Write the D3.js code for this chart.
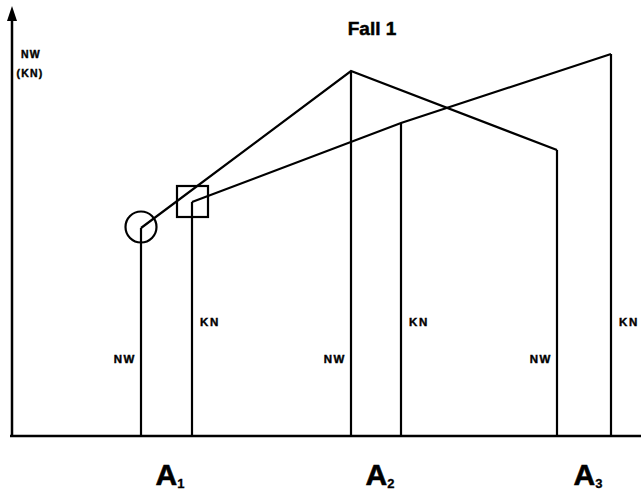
<!DOCTYPE html>
<html>
<head>
<meta charset="utf-8">
<script src="https://cdn.jsdelivr.net/npm/d3@7"></script>
<style>
  html, body { margin: 0; padding: 0; background: #fff; }
  svg { display: block; }
  text { font-family: "Liberation Sans", Arial, sans-serif; fill: #000; }
</style>
</head>
<body>
<div id="chart"></div>
<script>
// ---- data ----
const title = "Fall 1";
const categories = ["A", "A", "A"];
const subscripts = ["1", "2", "3"];
const categoryPos = [160, 370, 578];       // label position along x (axis units)
const nwPos = [131, 341, 547];             // NW bar positions (axis units)
const knPos = [182, 391, 601];             // KN bar positions (axis units)
const nwValues = [52, 91.25, 71.5];        // NW heights
const knValues = [58.5, 78.25, 95.5];      // KN heights
const nwLabel = "NW";
const knLabel = "KN";
const yAxisLabels = ["NW", "(KN)"];

// ---- layout ----
const W = 641, H = 494;
const x0 = 12, baseY = 436;
const x = d3.scaleLinear().domain([0, 631]).range([x0 - 2, 641]);
const y = d3.scaleLinear().domain([0, 100]).range([baseY, 36]);

const svg = d3.select("#chart").append("svg")
  .attr("width", W).attr("height", H);

const ink = "#000";

// axes
svg.append("line").attr("x1", x0).attr("x2", x0).attr("y1", baseY + 1).attr("y2", 16)
  .attr("stroke", ink).attr("stroke-width", 2.5);
svg.append("path").attr("d", `M${x0},6 L${x0 - 5},21 L${x0 + 5},21 Z`).attr("fill", ink);
svg.append("line").attr("x1", x0 - 2).attr("x2", W).attr("y1", baseY).attr("y2", baseY)
  .attr("stroke", ink).attr("stroke-width", 2.6);

// title
svg.append("text").attr("x", 372).attr("y", 35).attr("text-anchor", "middle")
  .attr("font-size", 19).attr("font-weight", "bold")
  .attr("stroke", ink).attr("stroke-width", 0.5).text(title);

// y axis labels
svg.append("text").attr("x", 31).attr("y", 58).attr("text-anchor", "middle")
  .attr("font-size", 10.5).attr("font-weight", "bold").attr("letter-spacing", 1.2)
  .attr("stroke", ink).attr("stroke-width", 0.4).text(yAxisLabels[0]);
svg.append("text").attr("x", 30).attr("y", 77).attr("text-anchor", "middle")
  .attr("font-size", 10.5).attr("font-weight", "bold").attr("letter-spacing", 1.2)
  .attr("stroke", ink).attr("stroke-width", 0.4).text(yAxisLabels[1]);

const lw = 2.2;

// vertical bars
const g = svg.append("g").attr("stroke", ink).attr("stroke-width", lw).attr("fill", "none");
nwPos.forEach((p, i) => {
  g.append("line").attr("x1", x(p)).attr("x2", x(p)).attr("y1", baseY).attr("y2", y(nwValues[i]));
});
knPos.forEach((p, i) => {
  g.append("line").attr("x1", x(p)).attr("x2", x(p)).attr("y1", baseY).attr("y2", y(knValues[i]));
});

// connecting lines
const lineGen = d3.line().x(d => x(d[0])).y(d => y(d[1]));
g.append("path").attr("d", lineGen(nwPos.map((p, i) => [p, nwValues[i]])))
  .attr("stroke-linejoin", "miter");
g.append("path").attr("d", lineGen(knPos.map((p, i) => [p, knValues[i]])))
  .attr("stroke-linejoin", "miter");

// markers
g.append("circle").attr("cx", x(nwPos[0])).attr("cy", y(nwValues[0]) - 1).attr("r", 15.5);
g.append("rect").attr("x", x(knPos[0]) - 15).attr("y", y(knValues[0]) - 16)
  .attr("width", 31).attr("height", 31);

// bar labels
nwPos.forEach(p => {
  svg.append("text").attr("x", x(p) - 5).attr("y", 363).attr("text-anchor", "end")
    .attr("font-size", 11.5).attr("font-weight", "bold").attr("letter-spacing", 1.6)
    .attr("stroke", ink).attr("stroke-width", 0.4).text(nwLabel);
});
knPos.forEach(p => {
  svg.append("text").attr("x", x(p) + 8).attr("y", 326).attr("text-anchor", "start")
    .attr("font-size", 11.5).attr("font-weight", "bold").attr("letter-spacing", 1.6)
    .attr("stroke", ink).attr("stroke-width", 0.4).text(knLabel);
});

// category labels
categories.forEach((c, i) => {
  const t = svg.append("text").attr("x", x(categoryPos[i])).attr("y", 485)
    .attr("text-anchor", "middle").attr("font-weight", "bold").attr("font-size", 30)
    .attr("stroke", ink).attr("stroke-width", 0.6);
  t.append("tspan").text(c);
  t.append("tspan").attr("font-size", 13).attr("dy", 3).attr("stroke-width", 0.3).text(subscripts[i]);
});
</script>
</body>
</html>
